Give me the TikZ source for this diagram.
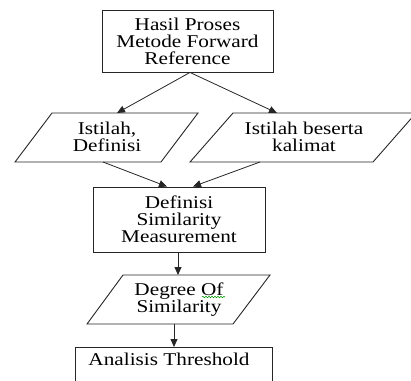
\documentclass[tikz,border=0pt]{standalone}
\usepackage{fontspec}
\setmainfont{Liberation Serif}[FakeStretch=1.18]
\usetikzlibrary{arrows.meta,decorations.pathmorphing}
\begin{document}
\begin{tikzpicture}[x=1pt,y=-1pt,
  box/.style={draw=black!85, line width=0.9pt, fill=white},
  txt/.style={align=center, font=\fontsize{18}{17}\selectfont, inner sep=0pt},
  arr/.style={-{Triangle[length=8pt,width=7pt]}, line width=0.8pt, draw=black!85},
  para/.style={draw=black!85, line width=0.9pt, fill=white, line join=miter}]
\useasboundingbox (0,0) rectangle (411,380);
\clip (0,0) rectangle (411,380);

% top box
\node[box, txt, minimum width=171pt, minimum height=62pt] (b1) at (187.5,41) {Hasil Proses\\Metode Forward\\Reference};

% parallelograms row
\draw[para] (52,113) -- (198,113) -- (161,162) -- (15,162) -- cycle;
\draw[para] (233,113) -- (416,113) -- (373,162) -- (190,162) -- cycle;
\node[txt] (t1) at (107,137) {Istilah,\\Definisi};
\node[txt] (t2) at (304,137) {Istilah beserta\\kalimat};
\coordinate (p1top) at (117,113);
\coordinate (p2top) at (277,113);
\coordinate (p1bot) at (103,162);
\coordinate (p2bot) at (260,162);

% second box
\node[box, txt, minimum width=172pt, minimum height=65pt] (b2) at (179,219.5) {Definisi\\Similarity\\Measurement};

% third parallelogram
\draw[para] (123,275) -- (270,275) -- (233,324) -- (87,324) -- cycle;
\node[txt] (t3) at (179,300) {Degree Of\\Similarity};
\coordinate (p3top) at (178,275);
\coordinate (p3bot) at (174,324);
\draw[green!60!black, line width=0.6pt, decorate, decoration={snake, amplitude=0.7pt, segment length=3pt}] (202,297) -- (225,297);

% last box (cut off by the page edge)
\node[box, txt, anchor=north, minimum width=197pt, inner ysep=5.5pt, text depth=30pt] (b4) at (173.5,347) {Analisis Threshold\hspace*{9pt}};

% connectors
\draw[arr] ([xshift=2.5pt]b1.south) -- (p1top);
\draw[arr] ([xshift=2.5pt]b1.south) -- (p2top);
\draw[arr] (p1bot) -- ([xshift=-12pt]b2.north);
\draw[arr] (p2bot) -- ([xshift=14pt]b2.north);
\draw[arr] (b2.south -| p3top) -- (p3top);
\draw[arr] (p3bot) -- (p3bot |- b4.north);
\end{tikzpicture}
\end{document}
